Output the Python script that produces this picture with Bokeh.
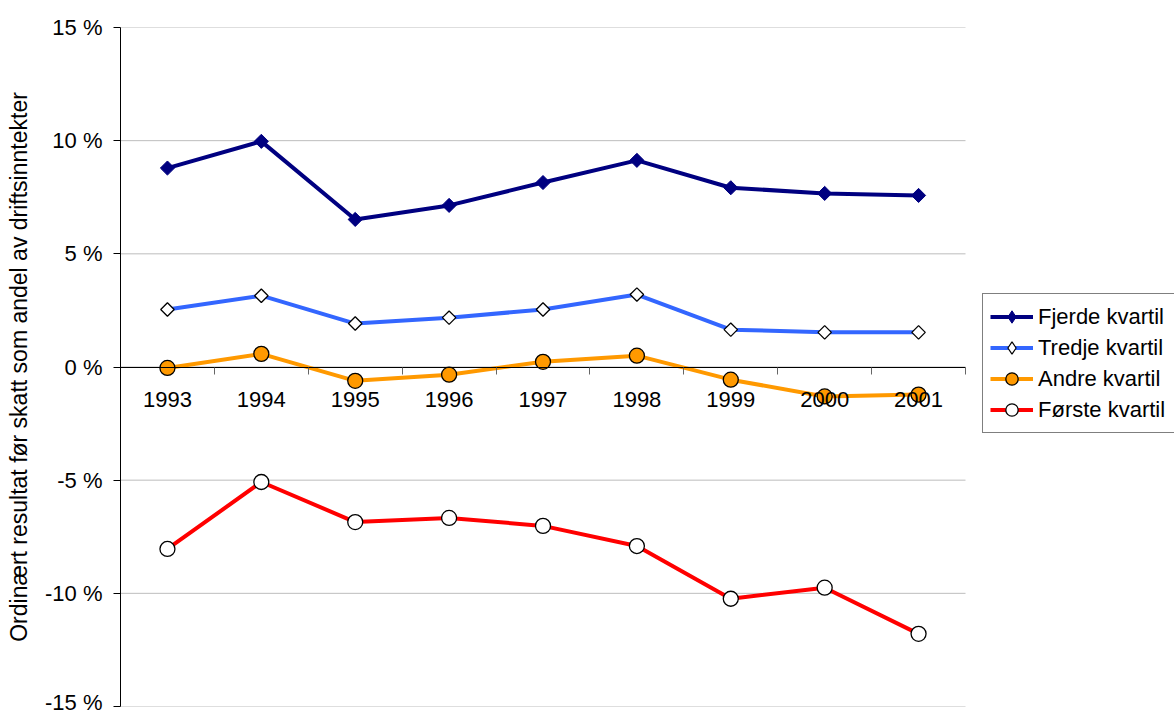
import numpy as np
from bokeh.plotting import figure
from bokeh.models import (LinearAxis, FixedTicker, Legend, LegendItem, Range1d)
from bokeh.embed import file_html
from bokeh.resources import INLINE

categories = [1993, 1994, 1995, 1996, 1997, 1998, 1999, 2000, 2001]
cat_labels = ["1993", "1994", "1995", "1996", "1997", "1998", "1999", "2000", "2001"]
fjerde = [8.79, 9.97, 6.52, 7.14, 8.15, 9.13, 7.92, 7.67, 7.58]
tredje = [2.54, 3.15, 1.92, 2.18, 2.54, 3.20, 1.65, 1.53, 1.53]
andre = [-0.04, 0.58, -0.61, -0.34, 0.23, 0.50, -0.56, -1.30, -1.22]
forste = [-8.04, -5.08, -6.85, -6.67, -7.02, -7.91, -10.24, -9.75, -11.79]
y_ticks = [-15, -10, -5, 0, 5, 10, 15]
y_tick_labels = ["-15 %", "-10 %", "-5 %", "0 %", "5 %", "10 %", "15 %"]
series_names = ["Fjerde kvartil", "Tredje kvartil", "Andre kvartil", "Første kvartil"]
y_title = "Ordinært resultat før skatt som andel av driftsinntekter"

FONT = "Liberation Sans"

# plot area spans categories +/- 0.5; frame extended to the right to host the legend
x_lo = categories[0] - 0.5
x_hi = categories[-1] + 0.5
frame_w = 1174 - 120
unit_px = 845 / (x_hi - x_lo)
x_end = x_lo + frame_w / unit_px

p = figure(width=1174, height=714, output_backend="svg", toolbar_location=None,
           x_range=Range1d(x_lo, x_end),
           y_range=Range1d(y_ticks[0], y_ticks[-1]),
           x_axis_location=None,
           min_border_left=120, min_border_right=0, min_border_top=27, min_border_bottom=8)
p.outline_line_color = None
p.background_fill_color = "white"
p.border_fill_color = "white"
p.xgrid.grid_line_color = None
p.ygrid.grid_line_color = None

# horizontal gridlines limited to the plot area
p.segment(x0=[x_lo] * len(y_ticks), x1=[x_hi] * len(y_ticks), y0=y_ticks, y1=y_ticks,
          line_color="#BDBDBD", line_width=1, level="underlay")

# y axis
ya = p.yaxis[0]
ya.ticker = FixedTicker(ticks=y_ticks)
ya.major_label_overrides = {t: l for t, l in zip(y_ticks, y_tick_labels)}
ya.major_tick_out = 7
ya.major_tick_in = 0
ya.minor_tick_out = 0
ya.minor_tick_in = 0
ya.axis_line_color = "black"
ya.major_tick_line_color = "black"
ya.major_label_text_font = FONT
ya.major_label_text_font_size = "22px"
ya.major_label_text_color = "black"
ya.major_label_standoff = 11
ya.axis_label = y_title
ya.axis_label_text_font = FONT
ya.axis_label_text_font_size = "23px"
ya.axis_label_text_font_style = "normal"
ya.axis_label_text_color = "black"
ya.axis_label_standoff = 10

# x axis at zero: ticks between categories
bounds = [x_lo] + [c + 0.5 for c in categories]
xa_ticks = LinearAxis(ticker=FixedTicker(ticks=bounds), fixed_location=0, bounds=(x_lo, x_hi),
                      major_tick_out=7, major_tick_in=0, minor_tick_out=0, minor_tick_in=0,
                      axis_line_color="black", major_tick_line_color="#666666",
                      major_label_text_font_size="0px")
xa_ticks.major_label_overrides = {b: "" for b in bounds}
p.add_layout(xa_ticks, "below")
xa_labels = LinearAxis(ticker=FixedTicker(ticks=categories), fixed_location=0, bounds=(x_lo, x_hi),
                       major_tick_out=0, major_tick_in=0, minor_tick_out=0, minor_tick_in=0,
                       axis_line_color=None, major_tick_line_color=None,
                       major_label_text_font=FONT, major_label_text_font_size="22px",
                       major_label_text_color="black", major_label_standoff=25)
xa_labels.major_label_overrides = {c: l for c, l in zip(categories, cat_labels)}
p.add_layout(xa_labels, "below")

LW = 4
items = []
l1 = p.line(categories, fjerde, line_color="#000080", line_width=LW)
# diamond glyph used for the legend key, hidden beneath the square-diamond markers
k1 = p.scatter(categories, fjerde, marker="diamond", size=12,
               fill_color="#000080", line_color="#000080", line_width=1)
m1 = p.scatter(categories, fjerde, marker="square", angle=np.pi / 4, size=10,
               fill_color="#000080", line_color="#000080", line_width=1)
items.append(LegendItem(label=series_names[0], renderers=[l1, k1]))

l2 = p.line(categories, tredje, line_color="#3366FF", line_width=LW)
k2 = p.scatter(categories, tredje, marker="diamond", size=10,
               fill_color="white", line_color="black", line_width=1.2)
m2 = p.scatter(categories, tredje, marker="square", angle=np.pi / 4, size=9.5,
               fill_color="white", line_color="black", line_width=1.3)
items.append(LegendItem(label=series_names[1], renderers=[l2, k2]))

l3 = p.line(categories, andre, line_color="#FF9900", line_width=LW)
m3 = p.scatter(categories, andre, marker="circle", size=15,
               fill_color="#FF9900", line_color="black", line_width=1.3)
items.append(LegendItem(label=series_names[2], renderers=[l3, m3]))

l4 = p.line(categories, forste, line_color="#FF0000", line_width=LW)
m4 = p.scatter(categories, forste, marker="circle", size=15,
               fill_color="white", line_color="black", line_width=1.3)
items.append(LegendItem(label=series_names[3], renderers=[l4, m4]))

legend = Legend(items=items, location=(862, 273), orientation="vertical",
                label_text_font=FONT, label_text_font_size="22px", label_text_color="black",
                glyph_width=43, glyph_height=31, label_height=31, label_width=150,
                label_standoff=5, spacing=0, padding=7, margin=0,
                border_line_color="black", border_line_width=1,
                background_fill_color="white", background_fill_alpha=1)
p.add_layout(legend)

open("out.html", "w").write(file_html(p, INLINE))
